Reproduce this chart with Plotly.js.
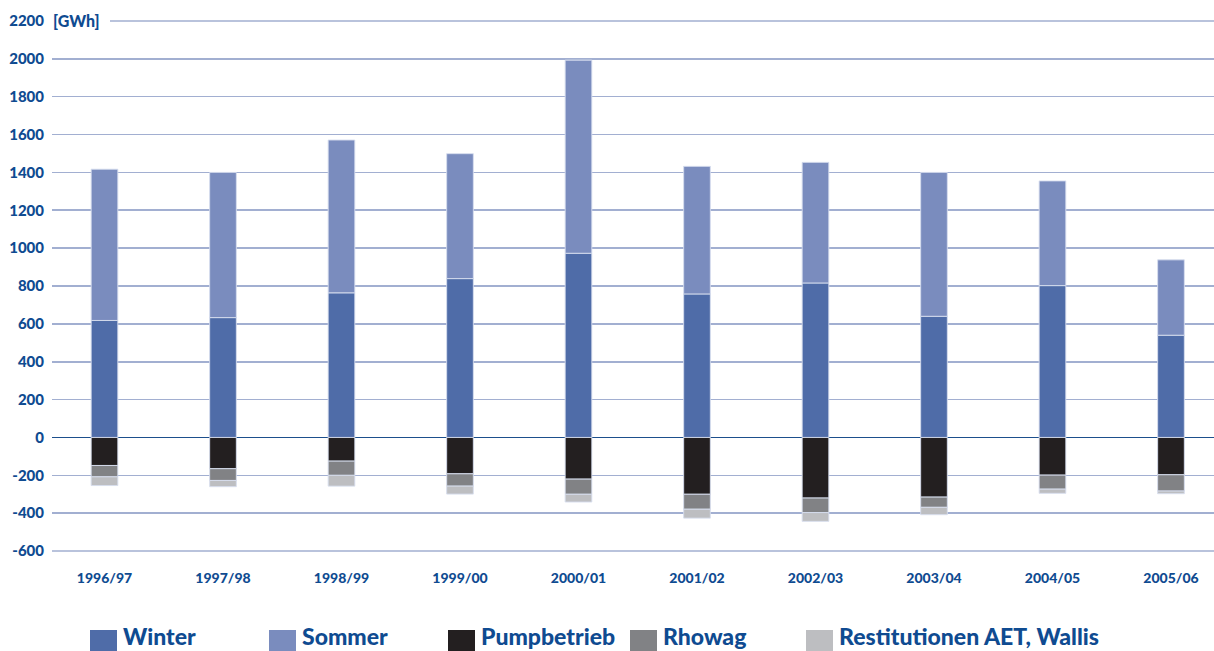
<!DOCTYPE html>
<html>
<head>
<meta charset="utf-8">
<script src="https://cdn.plot.ly/plotly-3.0.1.min.js"></script>
<style>html,body{margin:0;padding:0;background:#fff}#chart{width:1214px;height:651px}</style>
</head>
<body>
<div id="chart"></div>
<script>
// ---- data ----
const years = ["1996/97","1997/98","1998/99","1999/00","2000/01","2001/02","2002/03","2003/04","2004/05","2005/06"];
const winter = [618, 633, 764, 839, 973, 758, 816, 640, 802, 540];
const sommer = [799, 767, 807, 660, 1020, 674, 637, 760, 553, 398];
const pumpbetrieb = [-148, -165, -125, -192, -220, -300, -320, -315, -199, -197];
const rhowag = [-60, -62, -75, -65, -80, -79, -77, -54, -74, -86];
const restitutionen = [-46, -33, -57, -42, -41, -47, -46, -39, -22, -14];
const seriesNames = ["Winter", "Sommer", "Pumpbetrieb", "Rhowag", "Restitutionen AET, Wallis"];
const yTickVals = [-600, -400, -200, 0, 200, 400, 600, 800, 1000, 1200, 1400, 1600, 1800, 2000, 2200];
const yTickText = ["-600", "-400", "-200", "0", "200", "400", "600", "800", "1000", "1200", "1400", "1600", "1800", "2000", "2200"];
const unitLabel = "[GWh]";

// ---- styling ----
const colors = ["#4f6ca8", "#7a8cbe", "#231f20", "#818285", "#bdbec1"];
const textBlue = "#0f4b91";
const gridColor = "#a2afd1";
const FONT = "Lato, 'Open Sans', sans-serif";

const W = 1214, H = 651;
const M = {l: 52, r: 0, t: 20, b: 99};
const pw = W - M.l - M.r, ph = H - M.t - M.b;
const px2x = p => (p - M.l) / pw;
const py2y = p => (H - M.b - p) / ph;

const values = [winter, sommer, pumpbetrieb, rhowag, restitutionen];
const traces = values.map((v, i) => ({
  type: "bar",
  x: years,
  y: v,
  name: seriesNames[i],
  width: 0.225,
  marker: {color: colors[i], line: {color: "rgba(215,222,238,0.9)", width: 1}},
  showlegend: false,
  hoverinfo: "x+y+name"
}));

const shapes = [];
const annotations = [];
// boundary grid lines (top starts after the unit label)
const yMin = yTickVals[0], yMax = yTickVals[yTickVals.length - 1];
shapes.push({type: "line", layer: "below", xref: "paper", yref: "y",
  x0: px2x(110), x1: 1, y0: yMax, y1: yMax, line: {color: gridColor, width: 1.6}});
shapes.push({type: "line", layer: "below", xref: "paper", yref: "y",
  x0: 0, x1: 1, y0: yMin, y1: yMin, line: {color: gridColor, width: 1.6}});

// custom legend
const legendX = [90, 269, 448, 630, 806];
legendX.forEach((lx, i) => {
  shapes.push({type: "rect", xref: "paper", yref: "paper",
    x0: px2x(lx), x1: px2x(lx + 27), y0: py2y(652), y1: py2y(630),
    fillcolor: colors[i], line: {width: 0}});
  annotations.push({xref: "paper", yref: "paper", x: px2x(lx + 32), y: py2y(651),
    xanchor: "left", yanchor: "bottom", showarrow: false, borderpad: 0,
    text: seriesNames[i],
    font: {family: FONT, size: 23, color: textBlue, weight: 900}});
});
annotations.push({xref: "paper", yref: "y", x: 0, y: yMax, xanchor: "left", yanchor: "middle",
  showarrow: false, text: unitLabel, borderpad: 0,
  font: {family: FONT, size: 16, color: textBlue, weight: 900}});

const layout = {
  width: W, height: H,
  margin: M,
  paper_bgcolor: "#ffffff", plot_bgcolor: "#ffffff",
  barmode: "relative",
  showlegend: false,
  font: {family: FONT, color: textBlue},
  xaxis: {
    type: "category",
    range: [-0.443, 9.363],
    showgrid: false, zeroline: false, showline: false,
    ticks: "", ticklabelstandoff: 16,
    tickfont: {family: FONT, size: 14, color: textBlue, weight: 900},
    fixedrange: true
  },
  yaxis: {
    range: [-605, 2205],
    tickvals: yTickVals, ticktext: yTickText,
    showgrid: true, gridcolor: gridColor, gridwidth: 1.6,
    zeroline: true, zerolinecolor: "#1d4f8c", zerolinewidth: 1.6,
    showline: false, ticks: "", ticklabelstandoff: 7,
    tickfont: {family: FONT, size: 15, color: textBlue, weight: 900},
    fixedrange: true
  },
  shapes: shapes,
  annotations: annotations
};

Plotly.newPlot("chart", traces, layout, {displayModeBar: false, staticPlot: true});
</script>
</body>
</html>
